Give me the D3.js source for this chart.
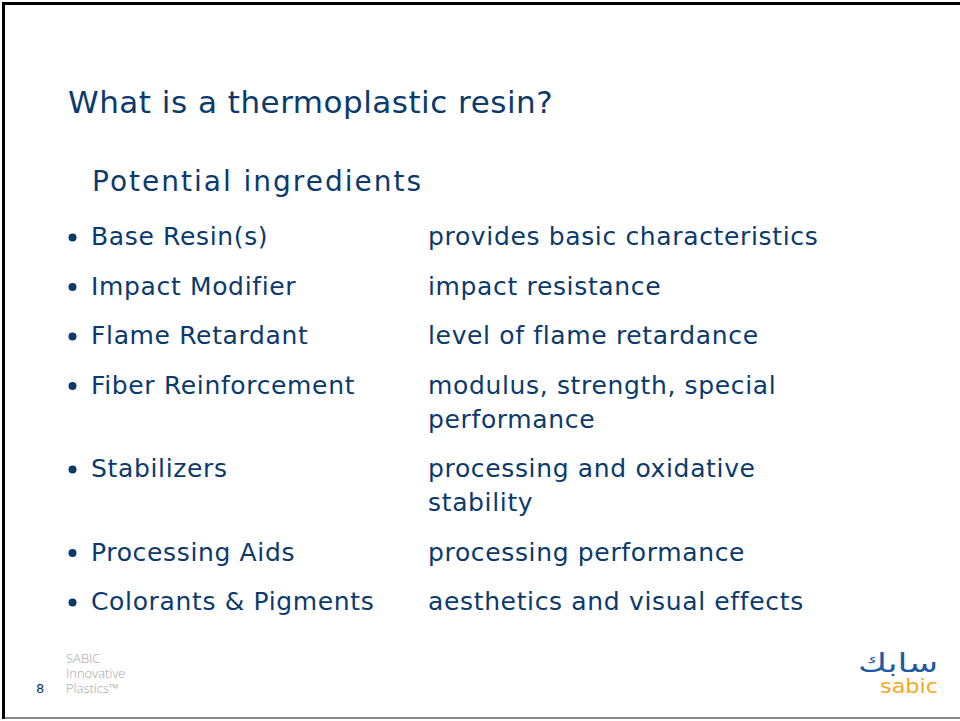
<!DOCTYPE html>
<html>
<head>
<meta charset="utf-8">
<script src="https://cdn.jsdelivr.net/npm/d3@7/dist/d3.min.js"></script>
<style>
  body { margin: 0; background: #fff; }
  text { font-family: Verdana, "DejaVu Sans", sans-serif; }
</style>
</head>
<body>
<div id="slide"></div>
<script>
// slide content
var title = "What is a thermoplastic resin?";
var subtitle = "Potential ingredients";
var ingredients = ["Base Resin(s)", "Impact Modifier", "Flame Retardant", "Fiber Reinforcement",
                   "Stabilizers", "Processing Aids", "Colorants & Pigments"];
var roles = [["provides basic characteristics"], ["impact resistance"], ["level of flame retardance"],
             ["modulus, strength, special", "performance"], ["processing and oxidative", "stability"],
             ["processing performance"], ["aesthetics and visual effects"]];
var footerLines = ["SABIC", "Innovative", "Plastics\u2122"];
var pageNum = "8";

var W = 960, H = 721;
var blue = "#0b3a6c";

var svg = d3.select("#slide").append("svg").attr("width", W).attr("height", H);

// frame: black top + left, grey bottom
svg.append("line").attr("x1", 2).attr("x2", W).attr("y1", 3.5).attr("y2", 3.5)
  .attr("stroke", "#000").attr("stroke-width", 3);
svg.append("line").attr("x1", 3.5).attr("x2", 3.5).attr("y1", 2).attr("y2", 719)
  .attr("stroke", "#000").attr("stroke-width", 3);
svg.append("line").attr("x1", 5).attr("x2", W).attr("y1", 718).attr("y2", 718)
  .attr("stroke", "#8a8a8a").attr("stroke-width", 2);

svg.append("text").attr("x", 68).attr("y", 113).attr("fill", blue)
  .style("font-size", "31px").style("letter-spacing", "0.5px").text(title);

svg.append("text").attr("x", 92).attr("y", 191).attr("fill", blue)
  .style("font-size", "28px").style("letter-spacing", "2px").text(subtitle);

// rows stack by number of wrapped lines
var lineH = 34, gap = 15.5;
var ys = [], acc = 245;
roles.forEach(function(r) { ys.push(acc); acc += r.length * lineH + gap; });

var row = svg.selectAll(".row").data(ingredients).enter().append("g")
  .attr("class", "row")
  .attr("transform", function(d, i) { return "translate(0," + ys[i] + ")"; });

row.append("circle").attr("cx", 72.5).attr("cy", -7.5).attr("r", 4).attr("fill", blue);
row.append("text").attr("x", 91).attr("fill", blue).style("font-size", "25px")
  .style("letter-spacing", "0.65px")
  .text(function(d) { return d; });

row.append("text").attr("x", 428).attr("fill", blue).style("font-size", "25px")
  .style("letter-spacing", "0.65px")
  .selectAll("tspan").data(function(d, i) { return roles[i]; }).enter().append("tspan")
  .attr("x", 428).attr("y", function(d, j) { return j * lineH; })
  .text(function(d) { return d; });

// footer
svg.append("text").attr("x", 36).attr("y", 693).attr("fill", blue)
  .style("font-size", "13px").text(pageNum);
svg.append("text").attr("fill", "#a3a3a3").style("font-size", "13px")
  .style("font-family", "'Open Sans', sans-serif").style("font-weight", 300)
  .selectAll("tspan").data(footerLines).enter().append("tspan")
  .attr("x", 66).attr("y", function(d, i) { return 663 + i * 15; })
  .text(function(d) { return d; });

// logo: arabic + latin wordmark in one block
var logo = svg.append("text").style("font-family", "'DejaVu Sans', sans-serif");
logo.append("tspan").attr("x", 858).attr("y", 672)
  .attr("textLength", 80).attr("lengthAdjust", "spacingAndGlyphs")
  .attr("fill", "#1f5aa6").style("font-size", "26px")
  .text("\u0633\u0627\u0628\u0643");
logo.append("tspan").attr("x", 880).attr("y", 693)
  .attr("textLength", 58).attr("lengthAdjust", "spacingAndGlyphs")
  .attr("fill", "#f6a821").style("font-size", "19px")
  .text("sabic");
</script>
</body>
</html>
